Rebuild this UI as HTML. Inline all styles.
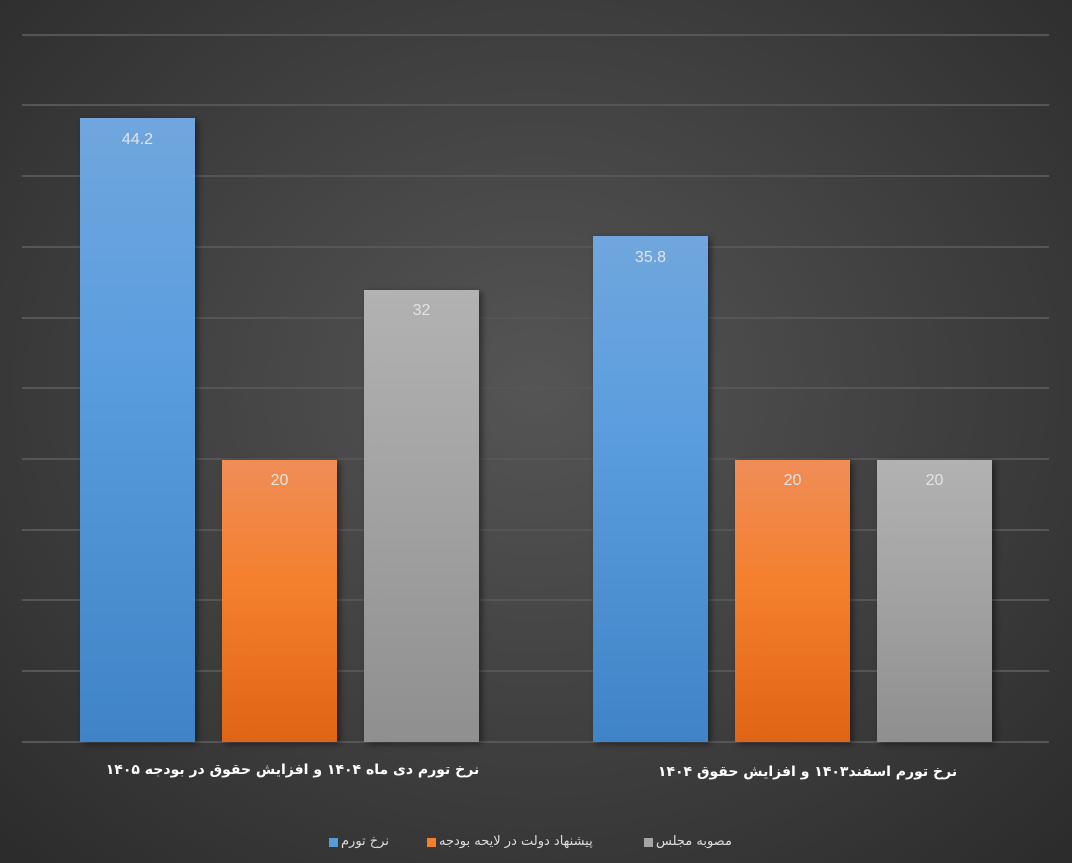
<!DOCTYPE html>
<html><head><meta charset="utf-8"><style>
html,body{margin:0;padding:0}
#c{position:relative;width:1072px;height:863px;overflow:hidden;background:radial-gradient(ellipse 70% 75% at 50% 45%,#555 0%,#434343 45%,#2c2c2c 100%);font-family:"Liberation Sans","DejaVu Sans",sans-serif}
.g{position:absolute;left:22px;width:1027px;height:2px;background:#565656}
.b{position:absolute;width:115px;box-shadow:3px 2px 6px rgba(0,0,0,.45)}
.bl{background:linear-gradient(#70a6dd,#5a9ddf 40%,#3f84c6)}
.or{background:linear-gradient(#f08d57,#f47f2c 45%,#e06415)}
.gr{background:linear-gradient(#b2b2b2,#a3a3a3 45%,#8f8f8f)}
.v{position:absolute;width:115px;text-align:center;color:#e3e3e3;font-size:16px}
.cat{position:absolute;color:#fff;font-weight:bold;font-size:14px;text-align:center;direction:rtl;font-family:"DejaVu Sans",sans-serif;white-space:nowrap}
.lg{position:absolute;top:834px;color:#ddd;font-size:13px;direction:rtl;font-family:"DejaVu Sans",sans-serif;white-space:nowrap}
.sq{position:absolute;top:838px;width:9px;height:9px}
</style></head><body><div id="c">
<div class="g" style="top:34px"></div><div class="g" style="top:104px"></div><div class="g" style="top:175px"></div><div class="g" style="top:246px"></div><div class="g" style="top:317px"></div><div class="g" style="top:387px"></div><div class="g" style="top:458px"></div><div class="g" style="top:529px"></div><div class="g" style="top:599px"></div><div class="g" style="top:670px"></div><div class="g" style="top:741px"></div>

<div class="b bl" style="left:80px;top:118px;height:624px"></div><div class="v" style="left:80px;top:131px">44.2</div>
<div class="b or" style="left:222px;top:460px;height:282px"></div><div class="v" style="left:222px;top:472px">20</div>
<div class="b gr" style="left:364px;top:290px;height:452px"></div><div class="v" style="left:364px;top:302px">32</div>
<div class="b bl" style="left:593px;top:236px;height:506px"></div><div class="v" style="left:593px;top:249px">35.8</div>
<div class="b or" style="left:735px;top:460px;height:282px"></div><div class="v" style="left:735px;top:472px">20</div>
<div class="b gr" style="left:877px;top:460px;height:282px"></div><div class="v" style="left:877px;top:472px">20</div>

<div class="cat" style="left:100px;width:385px;top:762px">نرخ تورم دی ماه ۱۴۰۴ و افزایش حقوق در بودجه ۱۴۰۵</div>
<div class="cat" style="left:650px;width:315px;top:764px">نرخ تورم اسفند۱۴۰۳ و افزایش حقوق ۱۴۰۴</div>

<div class="sq" style="left:329px;background:#5b9bd5"></div><div class="lg" style="left:341px">نرخ تورم</div>
<div class="sq" style="left:427px;background:#f47f2c"></div><div class="lg" style="left:439px">پیشنهاد دولت در لایحه بودجه</div>
<div class="sq" style="left:644px;background:#a5a5a5"></div><div class="lg" style="left:656px">مصوبه مجلس</div>
</div></body></html>
